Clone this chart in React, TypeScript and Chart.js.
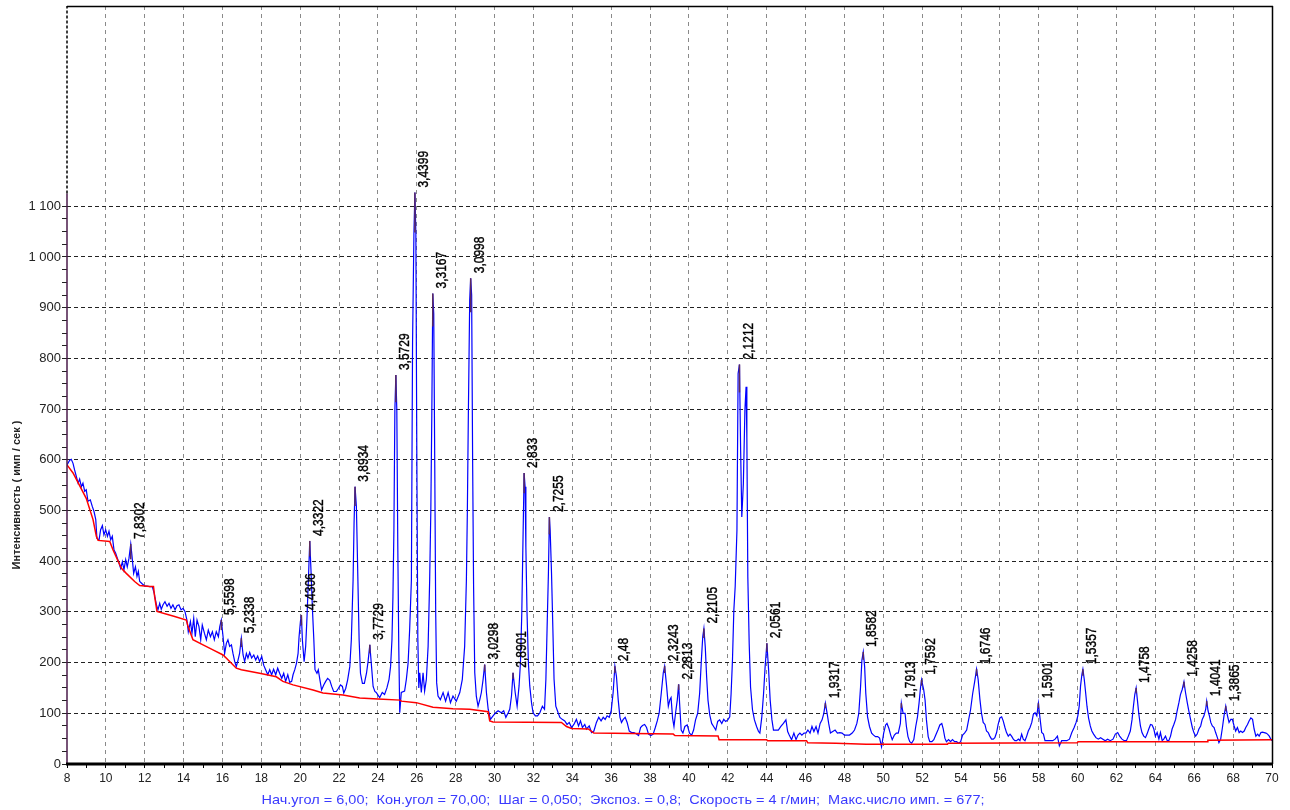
import { useEffect, useRef } from 'react';
import { Chart, registerables } from 'chart.js';

Chart.register(...registerables);

// ---- axis ranges / ticks ----
const X_MIN = 8;
const X_MAX = 70;
const Y_MIN = 0;
const Y_MAX = 1495;
const Y_LAST_TICK = 1100;

// ---- measured spectrum (2θ, counts) ----
const scan8to24: [number, number][] = [
  [8.00,590],[8.14,599],[8.22,601],[8.31,593],[8.39,580],[8.48,567],[8.57,554],[8.65,562],[8.74,547],[8.82,554],[8.91,538],[8.99,541],[9.08,518],[9.20,521],[9.30,508],[9.39,498],[9.48,482],[9.54,445],[9.65,442],[9.73,462],[9.82,470],[9.90,452],[9.99,462],[10.08,449],[10.16,459],[10.25,442],[10.33,449],[10.42,422],[10.50,416],[10.59,406],[10.68,396],[10.76,386],[10.85,399],[10.93,383],[11.02,403],[11.10,389],[11.19,406],[11.28,434],[11.34,412],[11.43,376],[11.52,389],[11.60,370],[11.67,380],[11.74,360],[11.88,355],[12.00,351],[12.12,351],[12.25,350],[12.39,350],[12.49,336],[12.60,314],[12.68,304],[12.77,317],[12.85,305],[12.94,314],[13.04,320],[13.15,311],[13.25,317],[13.35,307],[13.45,314],[13.56,304],[13.66,312],[13.76,314],[13.87,304],[13.97,307],[14.07,301],[14.17,284],[14.24,261],[14.35,281],[14.43,258],[14.52,287],[14.60,251],[14.69,284],[14.79,271],[14.88,245],[14.96,274],[15.07,258],[15.17,245],[15.27,264],[15.38,251],[15.48,261],[15.58,245],[15.68,261],[15.79,251],[15.86,271],[15.94,284],[16.03,251],[16.11,218],[16.20,238],[16.28,245],[16.37,232],[16.46,235],[16.54,218],[16.63,202],[16.71,192],[16.80,205],[16.88,218],[16.97,248],[17.06,215],[17.14,202],[17.23,218],[17.31,209],[17.40,220],[17.50,209],[17.61,215],[17.71,205],[17.81,213],[17.91,202],[18.02,212],[18.12,195],[18.22,186],[18.33,176],[18.43,186],[18.53,176],[18.63,187],[18.74,176],[18.84,189],[18.94,179],[19.05,169],[19.15,179],[19.25,163],[19.36,176],[19.46,161],[19.56,163],[19.63,176],[19.72,186],[19.81,199],[19.89,218],[19.94,251],[20.01,281],[20.06,294],[20.11,245],[20.20,202],[20.28,232],[20.35,291],[20.42,363],[20.49,440],[20.56,376],[20.63,304],[20.70,245],[20.76,186],[20.86,179],[20.93,186],[21.00,169],[21.10,146],[21.21,156],[21.31,163],[21.41,169],[21.52,165],[21.62,153],[21.72,143],[21.86,143],[21.96,149],[22.07,156],[22.17,153],[22.24,140],[22.34,149],[22.44,166],[22.55,192],[22.63,245],[22.72,363],[22.77,475],[22.82,547],[22.89,508],[22.96,376],[23.03,245],[23.10,179],[23.20,159],[23.30,159],[23.41,179],[23.49,202],[23.58,235],[23.67,192],[23.75,153],[23.84,143],[23.91,141],
];

const scan24to34: [number, number][] = [
  [24.00,136],[24.09,131],[24.22,141],[24.34,137],[24.46,150],[24.57,167],[24.65,193],[24.72,245],[24.77,330],[24.82,461],[24.87,698],[24.92,767],[24.97,698],[25.02,430],[25.07,232],[25.12,101],[25.20,141],[25.37,144],[25.46,167],[25.55,199],[25.63,265],[25.72,363],[25.78,832],[25.85,1046],[25.90,1127],[25.95,1045],[26.00,600],[26.05,250],[26.10,150],[26.15,180],[26.23,141],[26.32,180],[26.40,144],[26.49,167],[26.58,232],[26.66,363],[26.72,500],[26.77,688],[26.82,928],[26.87,888],[26.92,600],[26.97,300],[27.02,160],[27.09,134],[27.21,127],[27.35,141],[27.48,124],[27.61,141],[27.73,121],[27.86,134],[28.03,124],[28.21,141],[28.34,167],[28.46,232],[28.55,363],[28.60,500],[28.65,688],[28.72,915],[28.77,958],[28.82,925],[28.87,600],[28.92,350],[28.98,180],[29.06,134],[29.15,114],[29.24,127],[29.32,141],[29.41,167],[29.49,196],[29.58,141],[29.67,108],[29.79,88],[29.92,95],[30.06,101],[30.18,105],[30.35,101],[30.47,105],[30.58,92],[30.70,101],[30.78,108],[30.87,134],[30.95,180],[31.06,141],[31.16,114],[31.26,154],[31.33,199],[31.40,297],[31.47,461],[31.52,574],[31.57,547],[31.61,428],[31.67,297],[31.74,199],[31.81,154],[31.90,121],[31.98,101],[32.10,95],[32.21,95],[32.33,101],[32.46,114],[32.57,108],[32.64,167],[32.70,265],[32.77,376],[32.82,487],[32.86,461],[32.93,376],[33.00,265],[33.06,167],[33.15,114],[33.27,101],[33.36,92],[33.48,88],[33.61,85],[33.73,78],[33.84,82],[33.96,72],
];

const scan34to46: [number, number][] = [
  [34.08,78],[34.21,88],[34.32,75],[34.42,85],[34.52,72],[34.64,78],[34.73,69],[34.87,75],[34.99,62],[35.11,65],[35.24,82],[35.36,92],[35.48,85],[35.59,92],[35.69,88],[35.79,95],[35.90,92],[36.00,105],[36.10,141],[36.19,193],[36.27,173],[36.36,127],[36.45,92],[36.53,82],[36.62,88],[36.72,92],[36.82,82],[36.93,65],[37.05,62],[37.17,62],[37.30,59],[37.41,56],[37.51,72],[37.61,76],[37.72,78],[37.82,72],[37.92,59],[38.04,56],[38.16,59],[38.27,72],[38.37,85],[38.47,101],[38.58,141],[38.68,180],[38.75,193],[38.85,154],[38.94,114],[39.02,127],[39.08,131],[39.16,90],[39.23,74],[39.31,100],[39.40,126],[39.47,157],[39.52,120],[39.60,67],[39.69,61],[39.79,74],[39.91,77],[40.03,61],[40.14,57],[40.24,67],[40.34,87],[40.45,100],[40.55,139],[40.64,205],[40.71,251],[40.77,267],[40.84,231],[40.91,172],[40.98,126],[41.07,97],[41.17,80],[41.27,74],[41.38,67],[41.48,84],[41.58,87],[41.69,80],[41.79,88],[41.89,84],[42.00,87],[42.10,93],[42.17,139],[42.24,205],[42.31,303],[42.38,350],[42.47,461],[42.53,770],[42.60,788],[42.66,619],[42.72,487],[42.80,553],[42.88,698],[42.94,744],[42.98,645],[43.03,369],[43.10,238],[43.17,152],[43.27,107],[43.37,87],[43.48,74],[43.58,64],[43.65,61],[43.75,93],[43.84,139],[43.92,192],[44.01,238],[44.10,185],[44.18,126],[44.27,87],[44.35,67],[44.48,67],[44.60,67],[44.73,74],[44.86,80],[44.99,87],[45.08,64],[45.16,57],[45.28,48],[45.40,61],[45.51,48],[45.61,57],[45.71,61],[45.81,57],[45.92,61],
];

const scan46to61: [number, number][] = [
  [46.02,61],[46.12,67],[46.23,61],[46.33,74],[46.43,64],[46.54,74],[46.64,61],[46.75,80],[46.85,87],[46.94,100],[47.02,120],[47.11,100],[47.19,80],[47.28,61],[47.40,64],[47.52,67],[47.64,61],[47.76,62],[47.88,61],[48.00,57],[48.12,57],[48.26,57],[48.40,61],[48.52,67],[48.64,80],[48.74,100],[48.83,152],[48.90,205],[48.97,221],[49.04,192],[49.10,139],[49.19,93],[49.29,74],[49.40,61],[49.50,57],[49.60,54],[49.71,54],[49.81,51],[49.91,34],[50.02,61],[50.12,77],[50.19,80],[50.29,70],[50.38,57],[50.46,48],[50.57,57],[50.67,61],[50.77,61],[50.88,80],[50.93,120],[51.02,100],[51.12,100],[51.19,74],[51.27,54],[51.36,44],[51.46,41],[51.57,48],[51.67,74],[51.76,93],[51.84,120],[51.91,149],[51.97,166],[52.08,146],[52.15,126],[52.22,87],[52.31,54],[52.39,44],[52.50,44],[52.60,48],[52.70,57],[52.81,67],[52.91,77],[53.01,80],[53.08,70],[53.17,51],[53.25,44],[53.36,48],[53.46,44],[53.56,48],[53.67,44],[53.77,44],[53.88,41],[53.98,44],[54.08,57],[54.18,61],[54.29,67],[54.39,87],[54.49,107],[54.60,139],[54.70,162],[54.80,187],[54.88,167],[54.97,128],[55.05,101],[55.14,82],[55.23,78],[55.31,65],[55.40,62],[55.48,55],[55.57,49],[55.66,49],[55.74,52],[55.83,62],[55.91,78],[56.00,91],[56.09,93],[56.17,85],[56.26,72],[56.34,62],[56.43,55],[56.52,59],[56.60,55],[56.69,49],[56.77,46],[56.86,46],[56.95,49],[57.03,46],[57.12,59],[57.20,49],[57.29,46],[57.38,55],[57.46,65],[57.55,72],[57.64,82],[57.72,98],[57.81,101],[57.90,95],[57.98,120],[58.05,95],[58.15,62],[58.24,59],[58.32,46],[58.44,46],[58.58,46],[58.72,46],[58.84,49],[58.96,55],[59.06,36],[59.18,46],[59.30,46],[59.44,46],[59.58,49],[59.70,62],[59.82,72],[59.92,82],[60.01,95],[60.08,114],[60.15,154],[60.22,177],[60.27,187],[60.34,167],[60.41,141],[60.48,114],[60.56,91],[60.65,75],[60.73,65],[60.82,59],[60.94,52],
];

const scan61to70: [number, number][] = [
  [61.06,49],[61.18,52],[61.30,49],[61.42,46],[61.54,49],[61.68,46],[61.82,49],[61.94,59],[62.06,62],[62.16,55],[62.28,49],[62.40,46],[62.51,46],[62.61,55],[62.71,65],[62.80,88],[62.87,114],[62.94,137],[63.01,150],[63.07,128],[63.14,101],[63.23,75],[63.31,62],[63.40,55],[63.49,52],[63.57,59],[63.66,69],[63.75,78],[63.83,77],[63.92,69],[64.00,55],[64.09,62],[64.18,49],[64.26,62],[64.35,46],[64.43,49],[64.52,55],[64.61,46],[64.69,46],[64.78,55],[64.86,69],[64.95,78],[65.04,88],[65.12,105],[65.21,121],[65.29,137],[65.38,147],[65.47,162],[65.55,141],[65.64,121],[65.72,105],[65.81,88],[65.90,72],[65.98,62],[66.07,55],[66.15,59],[66.24,69],[66.33,75],[66.41,88],[66.50,95],[66.59,108],[66.64,124],[66.71,105],[66.78,95],[66.85,82],[66.93,75],[67.02,72],[67.10,62],[67.19,52],[67.27,42],[67.36,49],[67.45,72],[67.53,95],[67.62,114],[67.71,95],[67.79,82],[67.88,88],[67.96,88],[68.05,75],[68.13,65],[68.22,72],[68.31,62],[68.39,65],[68.48,62],[68.57,65],[68.65,72],[68.74,78],[68.82,85],[68.91,91],[69.00,88],[69.08,69],[69.17,55],[69.26,59],[69.34,55],[69.43,62],[69.51,63],[69.60,62],[69.69,61],[69.77,59],[69.86,55],[69.94,49],[70.00,46],
];

// ---- fitted background (2θ, counts) ----
const background: [number, number][] = [
  [8.00,590],[8.31,574],[8.99,524],[9.34,482],[9.51,449],[9.60,441],[10.20,439],[10.37,422],[10.80,386],[11.05,376],[11.48,360],[11.74,352],[12.25,350],[12.45,350],[12.51,330],[12.63,301],[13.54,291],[14.14,284],[14.23,271],[14.48,245],[15.00,235],[15.51,225],[16.03,215],[16.37,202],[16.71,189],[16.97,186],[17.91,179],[18.77,172],[19.11,163],[19.63,156],[20.66,146],[21.17,140],[22.20,136],[23.06,130],[24.00,128],[25.15,126],[25.20,124],[25.97,121],[26.83,112],[27.86,109],[28.72,108],[29.67,103],[29.75,85],[29.92,83],[33.44,82],[33.70,74],[33.96,70],[34.82,69],[35.11,61],[39.19,59],[39.28,56],[41.50,55],[41.55,48],[44.00,48],[44.04,46],[46.05,46],[46.11,42],[47.57,41],[49.12,39],[53.30,39],[53.34,41],[59.98,42],[60.02,44],[66.67,44],[66.70,47],[70.00,48],
];

// ---- labelled peaks (2θ, counts, d-spacing label) ----
const peakTheta = [11.28,15.94,16.97,20.06,20.49,22.82,23.58,24.92,25.90,26.82,28.77,29.49,30.95,31.52,32.82,36.19,38.75,39.47,40.77,42.60,44.01,47.02,48.97,50.93,51.97,54.80,57.98,60.27,63.01,65.47,66.64,67.62];
const peakCounts = [434,284,248,294,440,547,235,767,1127,928,958,196,180,574,487,193,193,157,267,788,238,120,221,120,166,187,120,187,150,162,124,114];
const peakLabels = ['7,8302','5,5598','5,2338','4,4306','4,3322','3,8934','3,7729','3,5729','3,4399','3,3167','3,0998','3,0298','2,8901','2,833','2,7255','2,48','2,3243','2,2813','2,2105','2,1212','2,0561','1,9317','1,8582','1,7913','1,7592','1,6746','1,5901','1,5357','1,4758','1,4258','1,4041','1,3865'];

const yTitle = 'Интенсивность ( имп / сек )';
const footer = 'Нач.угол = 6,00;  Кон.угол = 70,00;  Шаг = 0,050;  Экспоз. = 0,8;  Скорость = 4 г/мин;  Макс.число имп. = 677;';

const FONT = '"Liberation Sans", Arial, sans-serif';

const toPts = (arr: [number, number][]) => arr.map(([x, y]) => ({ x, y }));

function fmtThousands(v: number) {
  const s = String(v);
  return s.length > 3 ? s.slice(0, -3) + ' ' + s.slice(-3) : s;
}

const overlay = {
  id: 'overlay',
  afterDatasetsDraw(chart: any) {
    const { ctx, chartArea: a, scales } = chart;
    const x = scales.x, y = scales.y;
    ctx.save();
    // peak markers and labels
    peakTheta.forEach((t, i) => {
      const px = x.getPixelForValue(t);
      const py = y.getPixelForValue(peakCounts[i]);
      const len = Math.max(5, (a.bottom - py) * 0.07);
      ctx.strokeStyle = '#5c2a5c';
      ctx.lineWidth = 1.5;
      ctx.setLineDash([]);
      ctx.beginPath();
      ctx.moveTo(px, py);
      ctx.lineTo(px, py + len);
      ctx.stroke();
      ctx.save();
      ctx.translate(px + 9, py - 5);
      ctx.rotate(-Math.PI / 2);
      ctx.scale(0.8, 1);
      ctx.fillStyle = '#000';
      ctx.strokeStyle = '#000';
      ctx.lineWidth = 0.4;
      ctx.font = '15px ' + FONT;
      ctx.textAlign = 'left';
      ctx.textBaseline = 'middle';
      ctx.fillText(peakLabels[i], 0, 0);
      ctx.strokeText(peakLabels[i], 0, 0);
      ctx.restore();
    });
    // frame
    ctx.setLineDash([]);
    ctx.strokeStyle = '#000';
    ctx.lineWidth = 1.5;
    ctx.beginPath();
    ctx.moveTo(a.left, a.top + 0.5);
    ctx.lineTo(a.right + 1, a.top + 0.5);
    ctx.moveTo(a.right + 0.5, a.top);
    ctx.lineTo(a.right + 0.5, a.bottom);
    ctx.stroke();
    // y axis line: solid purple over tick range, dashed above
    const yEnd = y.getPixelForValue(1125);
    ctx.strokeStyle = '#4a1a4a';
    ctx.lineWidth = 1.5;
    ctx.beginPath();
    ctx.moveTo(a.left, a.bottom);
    ctx.lineTo(a.left, yEnd);
    ctx.stroke();
    ctx.strokeStyle = '#000';
    ctx.setLineDash([3, 2]);
    ctx.beginPath();
    ctx.moveTo(a.left, yEnd);
    ctx.lineTo(a.left, a.top);
    ctx.stroke();
    ctx.setLineDash([]);
    // thick x axis
    ctx.strokeStyle = '#000';
    ctx.lineWidth = 3;
    ctx.beginPath();
    ctx.moveTo(a.left - 1, a.bottom);
    ctx.lineTo(a.right + 1, a.bottom);
    ctx.stroke();
    ctx.restore();
  },
  afterDraw(chart: any) {
    const { ctx } = chart;
    ctx.save();
    ctx.fillStyle = '#222';
    ctx.font = 'bold 11px ' + FONT;
    ctx.translate(17, 495);
    ctx.rotate(-Math.PI / 2);
    ctx.textAlign = 'center';
    ctx.textBaseline = 'middle';
    ctx.fillText(yTitle, 0, 0);
    ctx.restore();
    ctx.save();
    ctx.fillStyle = '#3a3aff';
    ctx.font = '13px ' + FONT;
    ctx.textAlign = 'center';
    ctx.textBaseline = 'middle';
    ctx.translate(623, 800);
    const w = ctx.measureText(footer).width;
    ctx.scale(723 / w, 1);
    ctx.fillText(footer, 0, 0);
    ctx.restore();
  },
};

export default function App() {
  const ref = useRef<HTMLCanvasElement | null>(null);
  useEffect(() => {
    if (!ref.current) return;
    const chart = new Chart(ref.current, {
      type: 'line',
      data: {
        datasets: [
          {
            label: 'background',
            data: toPts(background),
            borderColor: '#ff0000',
            borderWidth: 1.5,
            pointRadius: 0,
            tension: 0,
            fill: false,
          },
          {
            label: 'scan',
            data: toPts([...scan8to24, ...scan24to34, ...scan34to46, ...scan46to61, ...scan61to70]),
            borderColor: '#0000ff',
            borderWidth: 1.2,
            pointRadius: 0,
            tension: 0,
            fill: false,
          },
        ],
      },
      options: {
        responsive: false,
        animation: false,
        devicePixelRatio: 1,
        layout: { padding: { top: 6, right: 18, left: 0, bottom: 0 } },
        plugins: { legend: { display: false }, tooltip: { enabled: false }, title: { display: false } },
        scales: {
          x: {
            type: 'linear',
            min: X_MIN,
            max: X_MAX,
            afterFit: (s: any) => { s.height = 46; s.paddingLeft = 0; s.paddingRight = 0; },
            ticks: {
              stepSize: 1,
              autoSkip: false,
              maxRotation: 0,
              padding: 3,
              color: '#222',
              font: { size: 12, family: FONT },
              callback: (v: any) => (Number(v) % 2 === 0 ? String(v) : ''),
            },
            grid: {
              color: (c: any) => {
                const v = c.tick ? c.tick.value : 0;
                return v % 2 === 0 && v > X_MIN && v < X_MAX ? '#8a8a8a' : 'rgba(0,0,0,0)';
              },
              lineWidth: 1,
              tickColor: '#000',
              tickLength: 4,
            },
            border: { display: false, dash: [4, 4] },
          },
          y: {
            type: 'linear',
            min: Y_MIN,
            max: Y_MAX,
            afterFit: (s: any) => { s.width = 67; s.paddingTop = 0; s.paddingBottom = 0; },
            afterBuildTicks: (s: any) => { s.ticks = s.ticks.filter((t: any) => t.value <= Y_LAST_TICK); },
            ticks: {
              stepSize: 25,
              autoSkip: false,
              padding: 1,
              color: '#222',
              font: { size: 13, family: FONT },
              callback: (v: any) => (Number(v) % 100 === 0 ? fmtThousands(Number(v)) : ''),
            },
            grid: {
              color: (c: any) => {
                const v = c.tick ? c.tick.value : 0;
                return v % 100 === 0 && v > 0 ? '#222' : 'rgba(0,0,0,0)';
              },
              lineWidth: 1,
              tickColor: '#222',
              tickLength: 5,
            },
            border: { display: false, dash: [4, 3] },
          },
        },
      },
      plugins: [overlay],
    } as any);
    return () => chart.destroy();
  }, []);
  return (
    <div style={{ position: 'fixed', left: 0, top: 0, width: 1290, height: 810, background: '#fff' }}>
      <canvas ref={ref} width={1290} height={810} style={{ display: 'block', width: 1290, height: 810 }} />
    </div>
  );
}
